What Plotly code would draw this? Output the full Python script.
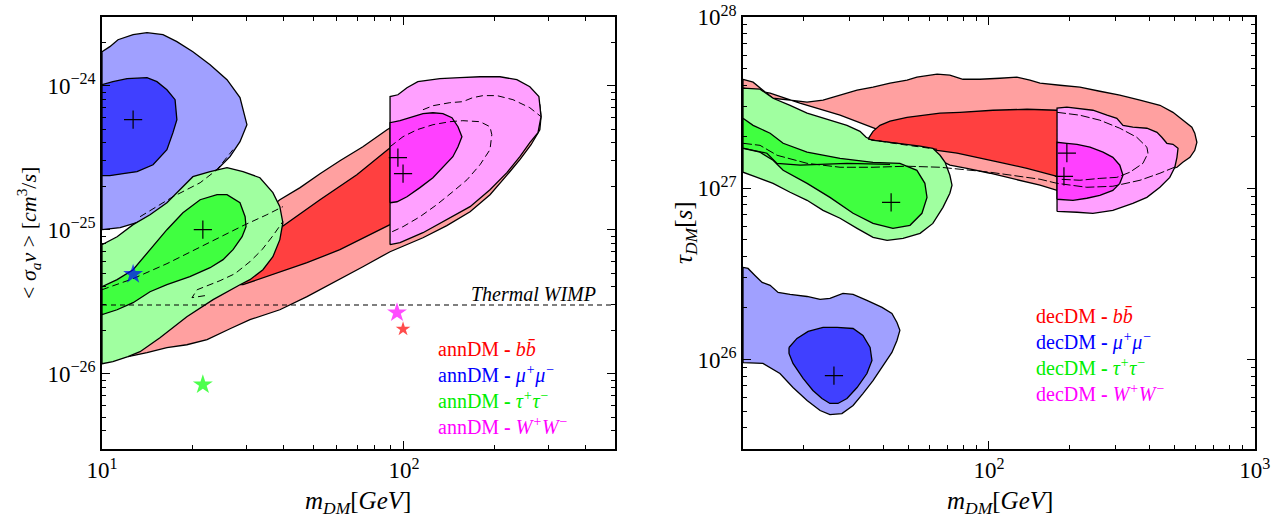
import plotly.graph_objects as go

# ---------------- LEFT PANEL: annihilating DM (log10 m_DM [GeV], log10 <sigma v> [cm^3/s]) -------------
ann_mumu_2s_lm = [1.000, 1.026, 1.053, 1.103, 1.149, 1.202, 1.248, 1.301, 1.358, 1.414, 1.457, 1.480, 1.457, 1.424, 1.381, 1.325, 1.258, 1.192, 1.126, 1.060, 1.000]
ann_mumu_2s_ls = [-23.764, -23.729, -23.681, -23.646, -23.632, -23.646, -23.694, -23.764, -23.854, -23.958, -24.083, -24.271, -24.389, -24.493, -24.583, -24.667, -24.778, -24.875, -24.944, -24.986, -25.000]
ann_mumu_1s_lm = [1.000, 1.036, 1.083, 1.149, 1.182, 1.215, 1.242, 1.248, 1.235, 1.215, 1.169, 1.116, 1.070, 1.026, 1.000]
ann_mumu_1s_ls = [-23.993, -23.972, -23.951, -23.944, -23.972, -24.028, -24.097, -24.236, -24.326, -24.444, -24.549, -24.597, -24.611, -24.625, -24.625]

ann_bb_2s_lm = [1.086, 1.225, 1.424, 1.589, 1.656, 1.722, 1.788, 1.864, 1.944, 2.053, 2.185, 2.318, 2.417, 2.450, 2.454, 2.450, 2.421, 2.384, 2.334, 2.285, 2.219, 2.142, 2.063, 1.987, 1.954, 1.864, 1.765, 1.679, 1.589, 1.490, 1.424, 1.348, 1.281, 1.215, 1.149]
ann_bb_2s_ls = [-25.882, -25.486, -25.069, -24.792, -24.708, -24.611, -24.521, -24.424, -24.306, -24.167, -24.063, -24.028, -24.063, -24.132, -24.215, -24.306, -24.410, -24.514, -24.639, -24.757, -24.875, -24.972, -25.056, -25.125, -25.153, -25.257, -25.368, -25.465, -25.556, -25.625, -25.688, -25.764, -25.799, -25.819, -25.854]
ann_bb_1s_lm = [1.457, 1.523, 1.596, 1.722, 1.844, 1.954, 2.053, 2.119, 1.954, 1.887, 1.788, 1.679, 1.566, 1.467]
ann_bb_1s_ls = [-25.382, -25.174, -24.979, -24.792, -24.618, -24.431, -24.306, -24.722, -24.965, -25.035, -25.139, -25.229, -25.313, -25.382]

ann_tau_2s_lm = [1.000, 1.050, 1.103, 1.159, 1.215, 1.258, 1.301, 1.358, 1.414, 1.467, 1.523, 1.566, 1.589, 1.599, 1.589, 1.566, 1.533, 1.490, 1.457, 1.368, 1.281, 1.192, 1.126, 1.086, 1.036, 1.000]
ann_tau_2s_ls = [-25.104, -25.049, -24.965, -24.896, -24.813, -24.722, -24.632, -24.597, -24.569, -24.597, -24.639, -24.743, -24.840, -24.951, -25.069, -25.188, -25.278, -25.347, -25.382, -25.486, -25.604, -25.750, -25.847, -25.882, -25.917, -25.931]
ann_tau_1s_lm = [1.000, 1.050, 1.103, 1.159, 1.215, 1.268, 1.325, 1.381, 1.414, 1.457, 1.474, 1.477, 1.464, 1.434, 1.401, 1.358, 1.291, 1.215, 1.159, 1.103, 1.050, 1.000]
ann_tau_1s_ls = [-25.396, -25.347, -25.278, -25.139, -25.000, -24.882, -24.792, -24.757, -24.757, -24.813, -24.910, -24.979, -25.049, -25.139, -25.208, -25.264, -25.326, -25.382, -25.431, -25.507, -25.556, -25.590]
ann_tau_dashA_lm = [1.000, 1.103, 1.215, 1.315, 1.391, 1.467, 1.546, 1.599]
ann_tau_dashA_ls = [-25.417, -25.340, -25.236, -25.132, -25.049, -24.972, -24.896, -24.840]
ann_tau_dashB_lm = [1.126, 1.235, 1.325, 1.381, 1.434]
ann_tau_dashB_ls = [-24.910, -24.771, -24.674, -24.583, -24.444]
ann_tau_dashC_lm = [1.341, 1.298, 1.315, 1.341, 1.391, 1.440, 1.490, 1.530, 1.566, 1.599]
ann_tau_dashC_ls = [-25.458, -25.472, -25.417, -25.396, -25.354, -25.306, -25.222, -25.139, -25.042, -24.944]

ann_ww_2s_lm = [1.954, 1.954, 1.980, 2.010, 2.046, 2.119, 2.185, 2.252, 2.318, 2.374, 2.417, 2.447, 2.454, 2.444, 2.417, 2.384, 2.341, 2.285, 2.219, 2.142, 2.063, 1.987]
ann_ww_2s_ls = [-25.104, -24.076, -24.063, -24.014, -23.972, -23.951, -23.944, -23.938, -23.938, -23.958, -24.007, -24.076, -24.215, -24.326, -24.396, -24.493, -24.604, -24.722, -24.840, -24.931, -25.021, -25.090]
ann_ww_1s_lm = [1.954, 1.954, 1.987, 2.030, 2.063, 2.096, 2.129, 2.159, 2.179, 2.192, 2.179, 2.162, 2.129, 2.096, 2.053, 2.010, 1.977]
ann_ww_1s_ls = [-24.813, -24.257, -24.243, -24.215, -24.194, -24.188, -24.194, -24.222, -24.285, -24.354, -24.424, -24.493, -24.569, -24.639, -24.708, -24.771, -24.806]
ann_ww_dashA_lm = [1.954, 1.997, 2.043, 2.096, 2.152, 2.195, 2.252, 2.285, 2.291, 2.285, 2.252, 2.209, 2.162, 2.109, 2.053, 1.997, 1.954]
ann_ww_dashA_ls = [-24.424, -24.354, -24.306, -24.271, -24.250, -24.243, -24.250, -24.285, -24.340, -24.444, -24.549, -24.653, -24.736, -24.826, -24.910, -24.979, -25.021]
ann_ww_dashB_lm = [2.063, 2.096, 2.152, 2.195, 2.228, 2.262, 2.308, 2.361, 2.417, 2.454]
ann_ww_dashB_ls = [-24.167, -24.139, -24.118, -24.111, -24.083, -24.069, -24.069, -24.097, -24.153, -24.215]

ann_best_lm = [1.103, 1.334, 1.980, 1.997]
ann_best_ls = [-24.236, -25.000, -24.500, -24.611]

ann_star_lm = [1.997, 1.103, 1.334, 1.977]          # bb, mumu, tautau, WW
ann_star_ls = [-25.690, -25.310, -26.076, -25.576]
thermal_sv = 3e-26

# ---------------- RIGHT PANEL: decaying DM (log10 m_DM [GeV], log10 tau_DM [s]) -------------
dec_bb_2s_lm = [1.075, 1.113, 1.150, 1.188, 1.252, 1.316, 1.376, 1.440, 1.504, 1.564, 1.628, 1.692, 1.729, 1.805, 1.853, 1.902, 1.966, 2.041, 2.105, 2.154, 2.192, 2.267, 2.342, 2.417, 2.492, 2.568, 2.643, 2.692, 2.729, 2.763, 2.774, 2.782, 2.774, 2.756, 2.729, 2.707,
                2.492, 2.256, 2.192, 2.117, 2.041, 2.004, 1.917, 1.853, 1.741, 1.590, 1.440, 1.289, 1.177, 1.075]
dec_bb_2s_lt = [27.637, 27.620, 27.573, 27.526, 27.515, 27.503, 27.515, 27.544, 27.573, 27.591, 27.614, 27.632, 27.649, 27.667, 27.661, 27.637, 27.637, 27.643, 27.649, 27.632, 27.614, 27.602, 27.591, 27.567, 27.544, 27.515, 27.485, 27.444, 27.398, 27.357, 27.322, 27.269, 27.222, 27.181, 27.152, 27.123,
                27.018, 26.988, 27.018, 27.047, 27.076, 27.088, 27.117, 27.135, 27.222, 27.339, 27.427, 27.497, 27.556, 27.585]
dec_bb_1s_lm = [1.545, 1.564, 1.590, 1.628, 1.692, 1.816, 1.891, 2.015, 2.143, 2.256, 2.380, 2.380, 2.256, 2.143, 2.041, 2.004, 1.880, 1.805, 1.654, 1.553]
dec_bb_1s_lt = [27.287, 27.333, 27.368, 27.392, 27.415, 27.439, 27.444, 27.456, 27.462, 27.456, 27.444, 27.047, 27.070, 27.117, 27.152, 27.164, 27.205, 27.222, 27.263, 27.281]
dec_bb_dash_lm = [1.545, 1.654, 1.805]
dec_bb_dash_lt = [27.287, 27.260, 27.228]

dec_mumu_2s_lm = [1.075, 1.094, 1.120, 1.147, 1.177, 1.207, 1.252, 1.316, 1.365, 1.402, 1.451, 1.489, 1.541, 1.598, 1.635, 1.654, 1.665, 1.654, 1.635, 1.602, 1.564, 1.526, 1.489, 1.447, 1.402, 1.365, 1.316, 1.263, 1.214, 1.150, 1.109, 1.075]
dec_mumu_2s_lt = [26.538, 26.532, 26.491, 26.450, 26.433, 26.392, 26.380, 26.368, 26.351, 26.357, 26.386, 26.380, 26.345, 26.304, 26.269, 26.216, 26.170, 26.111, 26.041, 25.965, 25.877, 25.801, 25.731, 25.684, 25.678, 25.702, 25.760, 25.836, 25.918, 25.977, 25.982, 25.982]
dec_mumu_1s_lm = [1.248, 1.278, 1.320, 1.376, 1.429, 1.489, 1.526, 1.553, 1.560, 1.541, 1.504, 1.466, 1.432, 1.402, 1.372, 1.338, 1.301, 1.263, 1.248]
dec_mumu_1s_lt = [26.070, 26.123, 26.164, 26.187, 26.187, 26.181, 26.140, 26.070, 25.994, 25.918, 25.836, 25.772, 25.743, 25.743, 25.772, 25.819, 25.889, 25.977, 26.035]

dec_tau_2s_lm = [1.075, 1.139, 1.188, 1.252, 1.316, 1.391, 1.466, 1.515, 1.538, 1.560, 1.665, 1.741, 1.789, 1.816, 1.835, 1.853, 1.861, 1.853, 1.827, 1.789, 1.741, 1.677, 1.617, 1.564, 1.504, 1.440, 1.376, 1.316, 1.252, 1.188, 1.128, 1.075]
dec_tau_2s_lt = [27.585, 27.579, 27.526, 27.485, 27.439, 27.404, 27.368, 27.333, 27.298, 27.281, 27.263, 27.246, 27.234, 27.193, 27.152, 27.076, 27.018, 26.971, 26.889, 26.795, 26.737, 26.708, 26.696, 26.713, 26.766, 26.825, 26.871, 26.930, 26.977, 27.029, 27.064, 27.094]
dec_tau_1s_lm = [1.075, 1.113, 1.177, 1.226, 1.316, 1.440, 1.564, 1.665, 1.729, 1.759, 1.767, 1.748, 1.703, 1.639, 1.564, 1.489, 1.402, 1.316, 1.226, 1.188, 1.139, 1.075]
dec_tau_1s_lt = [27.409, 27.368, 27.322, 27.263, 27.211, 27.175, 27.152, 27.146, 27.105, 27.029, 26.947, 26.854, 26.784, 26.766, 26.795, 26.854, 26.947, 27.029, 27.105, 27.164, 27.211, 27.234]
dec_tau_line_lm = [1.075, 1.165, 1.203, 1.290, 1.466, 1.628]
dec_tau_line_lt = [27.234, 27.205, 27.146, 27.135, 27.146, 27.140]
dec_tau_dash_lm = [1.075, 1.139, 1.203, 1.316, 1.440, 1.564, 1.692, 1.816, 2.004, 2.192, 2.256, 2.368, 2.466, 2.568, 2.643, 2.707]
dec_tau_dash_lt = [27.263, 27.251, 27.193, 27.146, 27.123, 27.123, 27.129, 27.123, 27.094, 27.053, 27.029, 27.006, 27.012, 27.047, 27.088, 27.129]

dec_ww_2s_lm = [2.256, 2.256, 2.293, 2.331, 2.391, 2.444, 2.481, 2.504, 2.541, 2.594, 2.632, 2.650, 2.669, 2.692, 2.711, 2.707, 2.699, 2.680, 2.643, 2.594, 2.541, 2.466, 2.391, 2.331]
dec_ww_2s_lt = [26.865, 27.468, 27.474, 27.468, 27.456, 27.427, 27.409, 27.368, 27.357, 27.351, 27.327, 27.298, 27.263, 27.257, 27.234, 27.181, 27.123, 27.064, 27.006, 26.947, 26.912, 26.871, 26.854, 26.860]
dec_ww_1s_lm = [2.256, 2.256, 2.293, 2.331, 2.380, 2.429, 2.466, 2.492, 2.504, 2.492, 2.466, 2.417, 2.368, 2.316]
dec_ww_1s_lt = [26.936, 27.269, 27.263, 27.257, 27.240, 27.211, 27.181, 27.135, 27.076, 27.029, 26.988, 26.959, 26.942, 26.930]
dec_ww_dash_lm = [2.256, 2.342, 2.417, 2.492, 2.556, 2.594, 2.598, 2.579, 2.530, 2.481, 2.417, 2.342, 2.267]
dec_ww_dash_lt = [27.444, 27.427, 27.398, 27.351, 27.298, 27.240, 27.205, 27.146, 27.094, 27.064, 27.058, 27.047, 27.053]

dec_best_lm = [1.417, 1.632, 2.293, 2.282]
dec_best_lt = [25.906, 26.918, 27.205, 27.070]

channels = ["bb\u0304", "\u03bc<sup>+</sup>\u03bc<sup>\u2212</sup>", "\u03c4<sup>+</sup>\u03c4<sup>\u2212</sup>", "W<sup>+</sup>W<sup>\u2212</sup>"]
chan_colors = ["#FF0000", "#0000FF", "#00FF00", "#FF00FF"]
text_colors = ["#FF0000", "#0000FF", "#00EE00", "#FF00FF"]

RED_L, RED_D = "#FFA0A0", "#FF4040"
BLU_L, BLU_D = "#A0A0FF", "#4040FF"
GRN_L, GRN_D = "#A0FFA0", "#40FF40"
MAG_L, MAG_D = "#FFA0FF", "#FF40FF"

SERIF = "Liberation Serif"
fig = go.Figure()


def p10(v):
    return [10.0 ** a for a in v]


def region(lm, lv, color, xa, ya):
    xs = p10(lm) + [10.0 ** lm[0]]
    ys = p10(lv) + [10.0 ** lv[0]]
    fig.add_trace(go.Scatter(x=xs, y=ys, mode="lines", fill="toself", fillcolor=color,
                             line=dict(color="black", width=1.3), xaxis=xa, yaxis=ya,
                             hoverinfo="skip", showlegend=False))


def curve(lm, lv, xa, ya, dash="dash", width=1.0):
    fig.add_trace(go.Scatter(x=p10(lm), y=p10(lv), mode="lines",
                             line=dict(color="black", width=width, dash=dash), xaxis=xa, yaxis=ya,
                             hoverinfo="skip", showlegend=False))


# left panel
region(ann_mumu_2s_lm, ann_mumu_2s_ls, BLU_L, "x", "y")
region(ann_mumu_1s_lm, ann_mumu_1s_ls, BLU_D, "x", "y")
region(ann_bb_2s_lm, ann_bb_2s_ls, RED_L, "x", "y")
region(ann_bb_1s_lm, ann_bb_1s_ls, RED_D, "x", "y")
region(ann_tau_2s_lm, ann_tau_2s_ls, GRN_L, "x", "y")
region(ann_tau_1s_lm, ann_tau_1s_ls, GRN_D, "x", "y")
curve(ann_tau_dashA_lm, ann_tau_dashA_ls, "x", "y", dash="7px,4px")
curve(ann_tau_dashB_lm, ann_tau_dashB_ls, "x", "y", dash="7px,4px")
curve(ann_tau_dashC_lm, ann_tau_dashC_ls, "x", "y", dash="7px,4px")
region(ann_ww_2s_lm, ann_ww_2s_ls, MAG_L, "x", "y")
region(ann_ww_1s_lm, ann_ww_1s_ls, MAG_D, "x", "y")
curve(ann_ww_dashA_lm, ann_ww_dashA_ls, "x", "y", dash="7px,4px")
curve(ann_ww_dashB_lm, ann_ww_dashB_ls, "x", "y", dash="7px,4px")

fig.add_trace(go.Scatter(x=[10.0, 10.0 ** 2.699], y=[thermal_sv, thermal_sv], mode="lines",
                         line=dict(color="black", width=1.1, dash="5px,4px"), xaxis="x", yaxis="y",
                         hoverinfo="skip", showlegend=False))
fig.add_trace(go.Scatter(x=p10(ann_best_lm), y=p10(ann_best_ls), mode="markers",
                         marker=dict(symbol="cross-thin", size=13, line=dict(width=1.2, color="black")),
                         xaxis="x", yaxis="y", hoverinfo="skip", showlegend=False))
fig.add_trace(go.Scatter(x=p10(ann_star_lm), y=p10(ann_star_ls), mode="markers",
                         marker=dict(symbol="star", size=[11, 15, 15, 15], color=chan_colors, line=dict(width=0)),
                         xaxis="x", yaxis="y", hoverinfo="skip", showlegend=False))

# right panel
region(dec_bb_2s_lm, dec_bb_2s_lt, RED_L, "x2", "y2")
region(dec_bb_1s_lm, dec_bb_1s_lt, RED_D, "x2", "y2")
region(dec_mumu_2s_lm, dec_mumu_2s_lt, BLU_L, "x2", "y2")
region(dec_mumu_1s_lm, dec_mumu_1s_lt, BLU_D, "x2", "y2")
region(dec_tau_2s_lm, dec_tau_2s_lt, GRN_L, "x2", "y2")
region(dec_tau_1s_lm, dec_tau_1s_lt, GRN_D, "x2", "y2")
curve(dec_bb_dash_lm, dec_bb_dash_lt, "x2", "y2", dash="7px,4px")
curve(dec_tau_line_lm, dec_tau_line_lt, "x2", "y2", dash="solid", width=1.2)
region(dec_ww_2s_lm, dec_ww_2s_lt, MAG_L, "x2", "y2")
region(dec_ww_1s_lm, dec_ww_1s_lt, MAG_D, "x2", "y2")
curve(dec_tau_dash_lm, dec_tau_dash_lt, "x2", "y2", dash="9px,3px")
curve(dec_ww_dash_lm, dec_ww_dash_lt, "x2", "y2", dash="9px,3px")
fig.add_trace(go.Scatter(x=p10(dec_best_lm), y=p10(dec_best_lt), mode="markers",
                         marker=dict(symbol="cross-thin", size=13, line=dict(width=1.2, color="black")),
                         xaxis="x2", yaxis="y2", hoverinfo="skip", showlegend=False))

# full-window figure; the page's default body margin is removed by a post script
FW, FH = 1284, 526


def fx(px):
    return px / FW


def fy(py):
    return 1 - py / FH


ydom = [fy(449), fy(17)]


def minors(decades, mults):
    return [float(m) * 10.0 ** d for d in decades for m in mults]


def sup(e):
    return "10<sup>%s</sup>" % str(e).replace("-", "\u2212")


axis_common = dict(type="log", showline=True, linecolor="black", linewidth=1.5, mirror="allticks",
                   ticks="inside", ticklen=8, tickwidth=1, tickcolor="black", showgrid=False, zeroline=False,
                   automargin=False, ticklabeloverflow="allow",
                   tickfont=dict(family=SERIF, size=23, color="black"), tickmode="array")

fig.update_layout(
    width=FW, height=FH, margin=dict(l=0, r=0, t=0, b=0, pad=0, autoexpand=False),
    paper_bgcolor="white", plot_bgcolor="white", showlegend=False,
    xaxis=dict(axis_common, domain=[fx(102), fx(615)], anchor="y", range=[1, 2.699],
               tickvals=[10.0, 100.0], ticktext=[sup(1), sup(2)],
               minor=dict(ticks="inside", ticklen=4, tickcolor="black",
                          tickvals=minors([1], [2, 3, 4, 5, 6, 7, 8, 9]) + [200.0, 300.0, 400.0])),
    yaxis=dict(axis_common, domain=ydom, anchor="x", range=[-26.523, -23.523],
               tickvals=[1e-26, 1e-25, 1e-24], ticktext=[sup(-26), sup(-25), sup(-24)],
               minor=dict(ticks="inside", ticklen=4, tickcolor="black",
                          tickvals=[4e-27, 5e-27, 6e-27, 7e-27, 8e-27, 9e-27] + minors([-26, -25], [2, 3, 4, 5, 6, 7, 8, 9]) + [2e-24])),
    xaxis2=dict(axis_common, domain=[fx(743), fx(1255)], anchor="y2", range=[1.075, 3.0005],
                tickvals=[100.0, 1000.0], ticktext=[sup(2), sup(3)],
                minor=dict(ticks="inside", ticklen=4, tickcolor="black",
                           tickvals=minors([1, 2], [2, 3, 4, 5, 6, 7, 8, 9]))),
    yaxis2=dict(axis_common, domain=ydom, anchor="x2", range=[25.477, 28.0008],
                tickvals=[1e26, 1e27, 1e28], ticktext=[sup(26), sup(27), sup(28)],
                minor=dict(ticks="inside", ticklen=4, tickcolor="black",
                           tickvals=[4e25, 5e25, 6e25, 7e25, 8e25, 9e25] + minors([26, 27], [2, 3, 4, 5, 6, 7, 8, 9]))),
)

ann = []
title_font = dict(family=SERIF, size=25, color="black")
# axis titles
for cx in (358, 1000):
    ann.append(dict(text="<i>m<sub>DM</sub></i>[<i>GeV</i>]", x=fx(cx), y=fy(502), xref="paper", yref="paper",
                    xanchor="center", yanchor="middle", showarrow=False, font=title_font))
ann.append(dict(text="&lt; <i>\u03c3<sub>a</sub>v</i> &gt; [<i>cm</i><sup>3</sup>/<i>s</i>]", x=fx(28), y=fy(233),
                xref="paper", yref="paper", textangle=-90, xanchor="center", yanchor="middle",
                showarrow=False, font=dict(family=SERIF, size=22, color="black")))
ann.append(dict(text="<i>\u03c4<sub>DM</sub></i>[<i>s</i>]", x=fx(685), y=fy(233),
                xref="paper", yref="paper", textangle=-90, xanchor="center", yanchor="middle",
                showarrow=False, font=title_font))
# thermal label
ann.append(dict(text="<i>Thermal WIMP</i>", x=fx(598), y=fy(294), xref="paper", yref="paper",
                xanchor="right", yanchor="middle", showarrow=False, font=dict(family=SERIF, size=20, color="black")))
# legends (one block each, uniform line spacing)
left_lines = "<br>".join('<span style="color:%s">annDM <b>-</b> <i>%s</i></span>' % (text_colors[i], channels[i]) for i in range(4))
right_lines = "<br>".join('<span style="color:%s">decDM <b>-</b> <i>%s</i></span>' % (text_colors[i], channels[i]) for i in range(4))
ann.append(dict(text=left_lines, x=fx(436), y=fy(388), xref="paper", yref="paper", xanchor="left",
                yanchor="middle", align="left", showarrow=False, font=dict(family=SERIF, size=20)))
ann.append(dict(text=right_lines, x=fx(1034), y=fy(355), xref="paper", yref="paper", xanchor="left",
                yanchor="middle", align="left", showarrow=False, font=dict(family=SERIF, size=20)))
fig.update_layout(annotations=ann)

fig.write_html("out.html", config={"displayModeBar": False},
               post_script="document.body.style.margin='0';document.body.style.overflow='hidden';")
